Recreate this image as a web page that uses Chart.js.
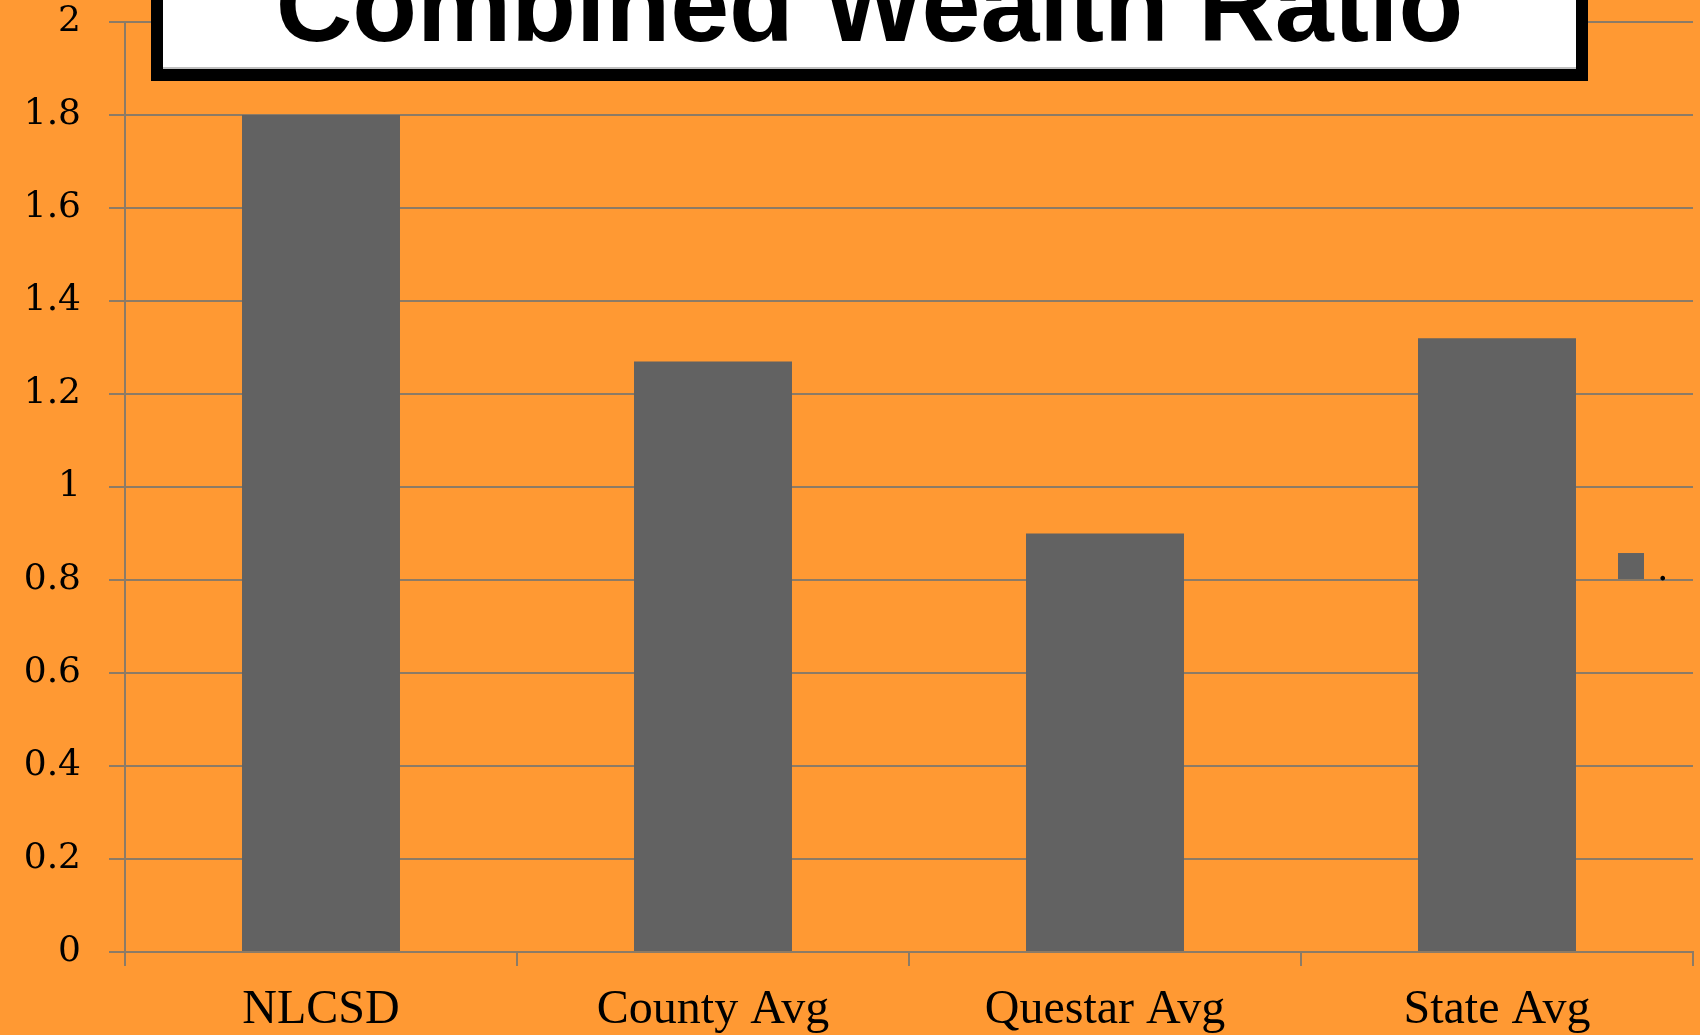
<!DOCTYPE html>
<html>
<head>
<meta charset="utf-8">
<script src="https://cdn.jsdelivr.net/npm/chart.js@4"></script>
<style>
  html, body { margin: 0; padding: 0; background: #ff9933; overflow: hidden; }
  #wrap { position: relative; width: 1700px; height: 1035px; }
  #title {
    position: absolute; left: 151px; top: -60px; width: 1437px; height: 141px;
    box-sizing: border-box; border: 12px solid #000; border-top: none;
    background: #fff; box-shadow: inset 0 -2px 0 #c0c0c0;
  }
  #title span {
    position: absolute; left: 0; right: 0; top: 11px; text-align: center;
    font-family: "Liberation Sans", Arial, sans-serif; font-weight: bold;
    font-size: 106px; line-height: 106px; color: #000; white-space: nowrap;
  }
</style>
</head>
<body>
<div id="wrap">
  <canvas id="chart"></canvas>
  <div id="title"><span>Combined Wealth Ratio</span></div>
</div>
<script>
// 数据
const categories = ['NLCSD', 'County Avg', 'Questar Avg', 'State Avg'];
const wealthRatio = [1.8, 1.27, 0.9, 1.32];
const yTickLabels = ['0', '0.2', '0.4', '0.6', '0.8', '1', '1.2', '1.4', '1.6', '1.8', '2'];
const seriesName = '.';

const gridColor = '#8c7b66';
const barColor = '#626262';

// 图例画在绘图区里面（原图就是这样）
const innerLegend = {
    id: 'innerLegend',
    afterDatasetsDraw(chart) {
        const { ctx, chartArea } = chart;
        const ds = chart.data.datasets[0];
        const x = chartArea.right - 75;
        const y = chartArea.top + (chartArea.bottom - chartArea.top) * 0.571;
        ctx.save();
        ctx.fillStyle = ds.backgroundColor;
        ctx.fillRect(x, y, 26, 26);
        ctx.fillStyle = '#000';
        ctx.font = '36px "DejaVu Serif", serif';
        ctx.textBaseline = 'alphabetic';
        ctx.fillText(ds.label, x + 39, y + 27);
        ctx.restore();
    }
};

const ctx = document.getElementById('chart').getContext('2d');
new Chart(ctx, {
    type: 'bar',
    data: {
        labels: categories,
        datasets: [{
            label: seriesName,
            data: wealthRatio,
            backgroundColor: barColor,
            categoryPercentage: 1,
            barPercentage: 0.403
        }]
    },
    options: {
        responsive: true,
        maintainAspectRatio: false,
        animation: false,
        layout: { padding: { top: 22, right: 7, left: 0, bottom: 0 } },
        plugins: {
            legend: { display: false },
            title: { display: false },
            tooltip: { enabled: false }
        },
        scales: {
            x: {
                grid: {
                    display: true,
                    drawOnChartArea: false,
                    color: gridColor,
                    lineWidth: 2,
                    tickLength: 14,
                    offset: true
                },
                border: { color: gridColor, width: 2 },
                ticks: {
                    color: '#000',
                    padding: 16,
                    font: { family: '"Liberation Serif", "Times New Roman", serif', size: 48 },
                    maxRotation: 0,
                    autoSkip: false
                },
                afterFit(scale) {
                    scale.height = 83;
                    scale.paddingLeft = 0;
                    scale.paddingRight = 0;
                }
            },
            y: {
                min: 0,
                max: 2,
                ticks: {
                    stepSize: 0.2,
                    color: '#000',
                    padding: 28,
                    font: { family: '"DejaVu Serif", serif', size: 36 },
                    callback: (v, i) => yTickLabels[i]
                },
                grid: {
                    color: gridColor,
                    lineWidth: 2,
                    tickLength: 16
                },
                border: { color: gridColor, width: 2 },
                afterFit(scale) {
                    scale.width = 125;
                    scale.paddingTop = 0;
                    scale.paddingBottom = 0;
                }
            }
        }
    },
    plugins: [innerLegend]
});
</script>
</body>
</html>
